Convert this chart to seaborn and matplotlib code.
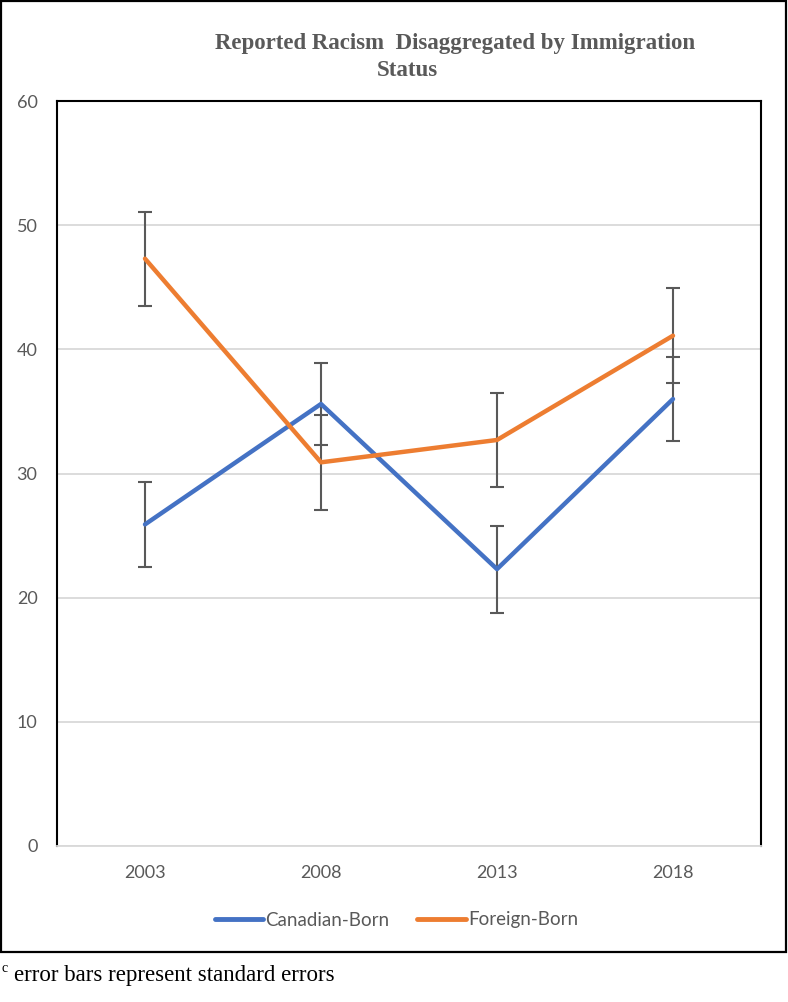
import pandas as pd
import matplotlib
matplotlib.use('Agg')
import matplotlib.pyplot as plt
import seaborn as sns
from matplotlib.patches import Rectangle

# dados
anos = [2003, 2008, 2013, 2018]
canadian_born = [25.9, 35.6, 22.3, 36.0]
canadian_se = [3.4, 3.3, 3.5, 3.4]
foreign_born = [47.3, 30.9, 32.7, 41.1]
foreign_se = [3.8, 3.8, 3.8, 3.8]
series_names = ['Canadian-Born', 'Foreign-Born']
y_ticks = [0, 10, 20, 30, 40, 50, 60]

df = pd.DataFrame({
    'ano': anos * 2,
    'valor': canadian_born + foreign_born,
    'se': canadian_se + foreign_se,
    'grupo': [series_names[0]] * 4 + [series_names[1]] * 4,
})

sns.set_style('white')
plt.rcParams['font.family'] = ['Lato', 'DejaVu Sans']

cores = {'Canadian-Born': '#4472C4', 'Foreign-Born': '#ED7D31'}
cinza = '#595959'

fig = plt.figure(figsize=(7.88, 10.02), dpi=100)
ax = fig.add_axes([57 / 788, 156 / 1002, 704 / 788, 745 / 1002])

# barras de erro (por baixo das linhas)
for nome in series_names:
    sub = df[df['grupo'] == nome]
    ax.errorbar(sub['ano'], sub['valor'], yerr=sub['se'], fmt='none',
                ecolor=cinza, elinewidth=1.5, capsize=5, capthick=1.5, zorder=2)

sns.lineplot(data=df, x='ano', y='valor', hue='grupo', palette=cores,
             linewidth=3.2, ax=ax, zorder=3, legend=False)

ax.set_xlim(2000.5, 2020.5)
ax.set_ylim(0, 60)
ax.set_xticks(anos)
ax.set_xticklabels([str(a) for a in anos])
ax.set_yticks(y_ticks)
ax.set_xlabel('')
ax.set_ylabel('')
ax.grid(axis='y', color='#D9D9D9', linewidth=1.3, zorder=0)
ax.set_axisbelow(True)
ax.tick_params(axis='both', length=0, labelsize=13, labelcolor=cinza)
ax.tick_params(axis='y', pad=14)
ax.tick_params(axis='x', pad=14)
for s in ['top', 'left', 'right']:
    ax.spines[s].set_color('black')
    ax.spines[s].set_linewidth(1.5)
ax.spines['bottom'].set_color('#D9D9D9')
ax.spines['bottom'].set_linewidth(1.3)

# legenda
handles = [plt.Line2D([], [], color=cores[n], linewidth=3.5) for n in series_names]
leg = fig.legend(handles, series_names, loc='center', bbox_to_anchor=(0.503, 82 / 1002),
                 ncol=2, frameon=False, fontsize=13.5, handlelength=2.6,
                 handletextpad=0.1, columnspacing=1.5)
for t in leg.get_texts():
    t.set_color(cinza)

# título
fig.text(455 / 788, 1 - 43 / 1002, 'Reported Racism  Disaggregated by Immigration',
         ha='center', va='center', fontsize=16.5, fontweight='bold', color=cinza,
         family='Liberation Serif')
fig.text(407 / 788, 1 - 71 / 1002, 'Status', ha='center', va='center',
         fontsize=16.5, fontweight='bold', color=cinza, family='Liberation Serif')

# moldura externa
fig.patches.append(Rectangle((1 / 788, 50 / 1002), 785 / 788, 951 / 1002,
                             transform=fig.transFigure, fill=False,
                             edgecolor='black', linewidth=1.6))

# nota de rodapé
fig.text(2 / 788, 1 - 969 / 1002, 'c', fontsize=10, color='black',
         family='Liberation Serif', va='center')
fig.text(14 / 788, 1 - 976 / 1002, 'error bars represent standard errors',
         fontsize=16.5, color='black', family='Liberation Serif', va='center')

fig.savefig('out.png', dpi=100)
